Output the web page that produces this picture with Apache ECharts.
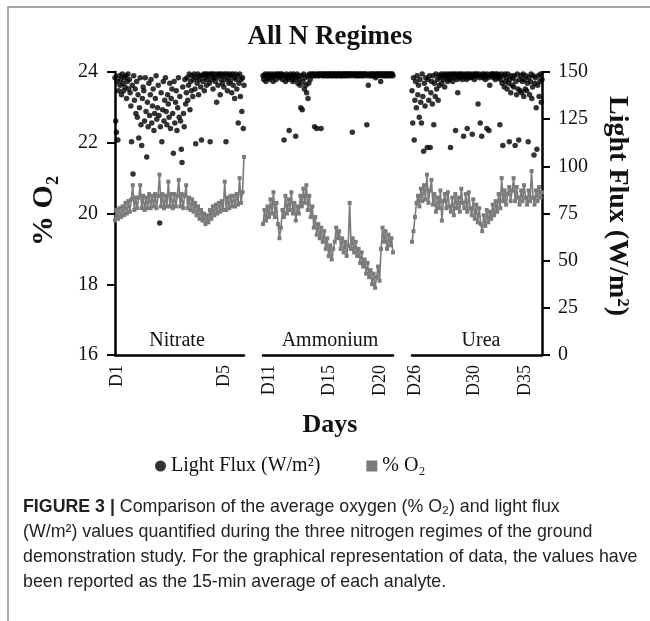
<!DOCTYPE html>
<html><head><meta charset="utf-8">
<script src="https://cdn.jsdelivr.net/npm/echarts@6/dist/echarts.min.js"></script>
<style>html,body{margin:0;padding:0;background:#fff;}#c{width:650px;height:621px;}</style>
</head><body><div id="c"></div>
<script>
// ---------- DATA ----------
const panelNames = ['Nitrate', 'Ammonium', 'Urea'];
const nitrateTickPos = [0.015, 0.845];
const nitrateTickLabels = ['D1', 'D5'];
const ammoniumTickPos = [0.052, 0.508, 0.9];
const ammoniumTickLabels = ['D11', 'D15', 'D20'];
const ureaTickPos = [0.028, 0.477, 0.875];
const ureaTickLabels = ['D26', 'D30', 'D35'];

// % O2 (15-min averages), evenly spaced across each regime
const nitrateO2 = [
19.8,20.1,19.85,20.15,19.9,20.2,19.95,20.3,
20.0,20.35,20.05,20.4,20.8,20.1,20.45,20.15,
20.45,20.8,20.15,20.5,20.1,20.45,20.15,20.55,
20.15,20.5,20.2,20.55,20.15,20.5,21.1,20.2,
20.55,20.15,20.5,20.2,20.9,20.2,20.55,20.15,
20.55,20.2,20.5,20.95,20.2,20.55,20.15,20.5,
20.8,20.15,20.45,20.1,20.4,20.05,20.3,19.95,
20.2,19.85,20.1,19.8,20.0,19.7,19.95,19.75,
20.1,19.85,20.2,19.95,20.25,20.0,20.3,20.05,
20.35,20.1,20.9,20.1,20.45,20.15,20.5,20.2,
20.5,20.2,20.55,20.25,21.0,20.3,20.6,21.6];
const ammoniumO2 = [
19.7,20.1,19.8,20.2,19.9,20.4,20.0,20.6,
19.9,20.3,19.7,19.3,19.6,20.1,19.9,20.5,
20.0,20.4,20.1,20.6,20.0,20.3,19.8,20.2,
20.0,20.5,20.2,20.7,20.3,20.8,20.1,20.5,
19.9,20.2,19.6,19.9,19.4,19.7,19.3,19.6,
19.2,19.5,19.0,19.3,18.8,19.1,18.7,19.0,
19.2,19.6,19.3,19.5,19.0,19.3,18.9,19.2,
18.8,19.1,20.3,19.0,19.3,18.9,19.2,18.8,
19.0,18.6,18.9,18.5,18.7,18.3,18.6,18.2,
18.4,18.0,18.3,17.9,18.2,18.5,18.1,19.0,
19.6,19.2,19.5,19.0,19.4,19.1,19.3,18.9];
const ureaO2 = [
19.2,19.5,19.9,20.3,20.5,20.2,20.7,20.35,
20.8,20.4,21.1,20.3,20.65,20.95,20.25,20.55,
20.05,20.45,20.15,20.65,19.8,20.35,20.55,20.15,
20.6,20.2,20.05,20.45,19.95,20.55,20.15,20.45,
20.05,20.7,20.3,20.15,20.55,20.05,20.6,20.15,
19.95,20.4,19.85,20.25,19.75,20.15,19.7,19.5,
19.95,19.65,20.1,19.75,20.05,19.85,20.25,19.95,
20.35,20.05,20.55,20.15,21.0,20.35,20.65,20.25,
20.55,20.75,20.35,20.65,21.0,20.35,20.75,20.45,
20.25,20.65,20.35,20.8,20.45,20.25,20.65,20.35,
21.2,20.45,20.25,20.65,20.35,20.75,20.45,20.6];

// Light flux (W/m2), evenly spaced across each regime
const nitrateFlux = [
147,124,118,145,114,140,148,143,146,138,
149,144,140,147,142,148,136,145,149,141,
146,139,132,113,143,96,148,135,141,128,
145,126,138,115,131,147,122,111,136,142,
140,124,147,129,105,134,121,144,127,138,
146,123,132,141,119,128,136,148,125,131,
143,127,70,121,139,113,130,145,124,135,
147,129,122,138,133,126,144,120,136,141,
128,107,145,123,134,140,119,131,147,126,
137,124,109,102,142,128,121,146,133,139,
147,135,143,149,130,145,140,148,137,146,
149,141,112,147,144,149,138,146,148,142,
114,148,145,149,140,147,149,143,146,149,
148,144,113,149,146,149,141,147,149,145,
147,134,149,143,148,149,138,146,149,144,
148,142,149,146,113,149,140,147,144,149,
145,148,139,149,143,147,136,149,146,141,
148,123,144,149,137,146,129,147,120,143];
const ammoniumFlux = [
148,146,148,149,145,148,147,149,148,146,
148,149,147,148,145,149,148,148,146,149,
148,149,148,147,149,148,149,146,148,114,
148,145,149,147,148,146,119,148,149,147,
148,145,149,146,148,116,147,149,144,148,
146,143,131,148,130,145,149,141,147,143,
139,148,136,144,149,146,148,149,148,149,
148,121,149,148,120,149,148,149,148,149,
120,149,148,149,148,149,149,148,149,148,
149,148,149,149,148,149,148,149,149,148,
149,148,149,148,149,149,148,149,148,149,
148,149,149,148,149,148,149,149,148,149,
149,148,149,118,149,148,149,149,148,149,
148,149,148,149,149,148,149,148,149,149,
148,149,149,122,148,143,149,148,149,148,
149,148,149,149,148,147,149,148,149,149,
148,149,145,149,148,149,149,148,149,148,
149,148,149,149,148,149,148,149,149,148];
const ureaFlux = [
140,123,147,114,135,145,131,148,138,143,
126,146,134,123,149,137,108,144,132,147,
141,110,146,135,148,110,139,145,133,148,
122,144,137,149,141,146,135,148,143,147,
149,144,148,146,149,142,148,147,149,145,
148,146,149,110,147,149,145,148,149,147,
119,149,146,139,148,149,147,149,148,146,
149,116,148,147,149,146,120,149,148,147,
149,148,147,117,149,148,146,149,148,149,
148,133,149,147,123,148,116,149,147,148,
149,146,148,120,149,147,119,143,148,149,
148,149,147,149,148,146,149,148,149,147,
148,122,146,149,144,111,148,142,149,145,
147,141,149,144,113,146,139,148,143,147,
142,148,111,145,138,149,141,114,146,140,
148,139,145,149,137,146,141,148,140,144,
113,147,138,145,149,136,142,148,106,144,
147,131,109,143,148,137,145,149,134,146];

// ---------- CHART ----------
const SERIF = '"Liberation Serif","Times New Roman",serif';
const SANS = '"Liberation Sans",Arial,sans-serif';
const O2_NAME = '% O\u2082';
const FLUX_NAME = 'Light Flux (W/m\u00B2)';
const GREY = '#7b7b7b';

const o2Sets = [nitrateO2, ammoniumO2, ureaO2];
const fluxSets = [nitrateFlux, ammoniumFlux, ureaFlux];
const tickPos = [nitrateTickPos, ammoniumTickPos, ureaTickPos];
const tickLab = [nitrateTickLabels, ammoniumTickLabels, ureaTickLabels];

const gridBoxes = [
  {left: 115, width: 129, top: 72, height: 283},
  {left: 263, width: 130, top: 72, height: 283},
  {left: 412, width: 130, top: 72, height: 283}
];

function fmt(pos, labels) {
  return function (v) {
    let k = 0, b = 1e9;
    pos.forEach((p, i) => { const d = Math.abs(p - v); if (d < b) { b = d; k = i; } });
    return labels[k];
  };
}
const spread = arr => arr.map((v, i) => [i / (arr.length - 1), v]);

const xAxis = gridBoxes.map((g, p) => ({
  type: 'value', gridIndex: p, min: 0, max: 1,
  axisLine: {show: true, onZero: false, lineStyle: {color: '#000', width: 2.5}},
  axisTick: {show: false},
  splitLine: {show: false},
  axisLabel: {
    customValues: tickPos[p], formatter: fmt(tickPos[p], tickLab[p]),
    rotate: 90, margin: 10, fontFamily: SERIF, fontSize: 18, color: '#111'
  }
}));

const yAxis = [];
for (let p = 0; p < 3; p++) {
  yAxis.push({
    type: 'value', gridIndex: p, min: 16, max: 24, interval: 2, position: 'left',
    show: p === 0,
    axisLine: {show: true, lineStyle: {color: '#000', width: 2.5}},
    axisTick: {show: true, length: 8, lineStyle: {color: '#000', width: 2}},
    splitLine: {show: false},
    axisLabel: {margin: 17, fontFamily: SERIF, fontSize: 20, color: '#111'}
  });
  yAxis.push({
    type: 'value', gridIndex: p, min: 0, max: 150, interval: 25, position: 'right',
    show: p === 2,
    axisLine: {show: true, lineStyle: {color: '#000', width: 2.5}},
    axisTick: {show: true, length: 8, lineStyle: {color: '#000', width: 2}},
    splitLine: {show: false},
    axisLabel: {margin: 16, fontFamily: SERIF, fontSize: 20, color: '#111'}
  });
}

const series = [];
for (let p = 0; p < 3; p++) {
  series.push({
    name: FLUX_NAME, type: 'scatter', xAxisIndex: p, yAxisIndex: 2 * p + 1,
    data: spread(fluxSets[p]), symbol: 'circle', symbolSize: 5.5, clip: false,
    itemStyle: {color: '#000'}, z: 2, silent: true
  });
  series.push({
    name: O2_NAME, type: 'line', xAxisIndex: p, yAxisIndex: 2 * p,
    data: spread(o2Sets[p]), symbol: 'rect', symbolSize: 4, showSymbol: true, clip: false,
    lineStyle: {color: GREY, width: 1.6}, itemStyle: {color: GREY}, z: 3, silent: true
  });
}

const captionLines = [
  '{b|FIGURE 3 |} Comparison of the average oxygen (% O\u2082) and light flux',
  '(W/m\u00B2) values quantified during the three nitrogen regimes of the ground',
  'demonstration study. For the graphical representation of data, the values have',
  'been reported as the 15-min average of each analyte.'
];
const captionY = [507, 532, 557, 582];

const graphic = [
  {type: 'rect', shape: {x: 8, y: 7, width: 700, height: 700}, style: {fill: 'none', stroke: '#8a8a8a', lineWidth: 1.5}, silent: true},
  {type: 'text', x: 330, y: 37, style: {text: 'All N Regimes', font: 'bold 27px ' + SERIF, fill: '#111', align: 'center', verticalAlign: 'middle'}},
  {type: 'text', x: 330, y: 425, style: {text: 'Days', font: 'bold 26px ' + SERIF, fill: '#111', align: 'center', verticalAlign: 'middle'}},
  {type: 'text', x: 44, y: 211, rotation: Math.PI / 2, style: {text: O2_NAME, font: 'bold 30px ' + SERIF, fill: '#111', align: 'center', verticalAlign: 'middle'}},
  {type: 'text', x: 617, y: 206, rotation: -Math.PI / 2, style: {text: FLUX_NAME, font: 'bold 28px ' + SERIF, fill: '#111', align: 'center', verticalAlign: 'middle'}}
];
const panelLabelX = [177, 330, 481];
panelNames.forEach((n, i) => graphic.push({type: 'text', x: panelLabelX[i], y: 341,
  style: {text: n, font: '20px ' + SERIF, fill: '#111', align: 'center', verticalAlign: 'middle'}}));
captionLines.forEach((t, i) => graphic.push({type: 'text', x: 23, y: captionY[i],
  style: {text: t, font: '17.8px ' + SANS, fill: '#222', align: 'left', verticalAlign: 'middle',
    rich: {b: {font: 'bold 17.8px ' + SANS, fill: '#222'}}}}));

const chart = echarts.init(document.getElementById('c'));
chart.setOption({
  animation: false,
  backgroundColor: '#fff',
  grid: gridBoxes.map(g => Object.assign({containLabel: false}, g)),
  xAxis, yAxis, series,
  legend: {
    data: [{name: FLUX_NAME, icon: 'circle'}, {name: O2_NAME, icon: 'rect'}],
    left: 150, top: 451, itemWidth: 11, itemHeight: 11, itemGap: 46, selectedMode: false,
    textStyle: {fontFamily: SERIF, fontSize: 20, color: '#111'}
  },
  graphic
});
</script></body></html>
